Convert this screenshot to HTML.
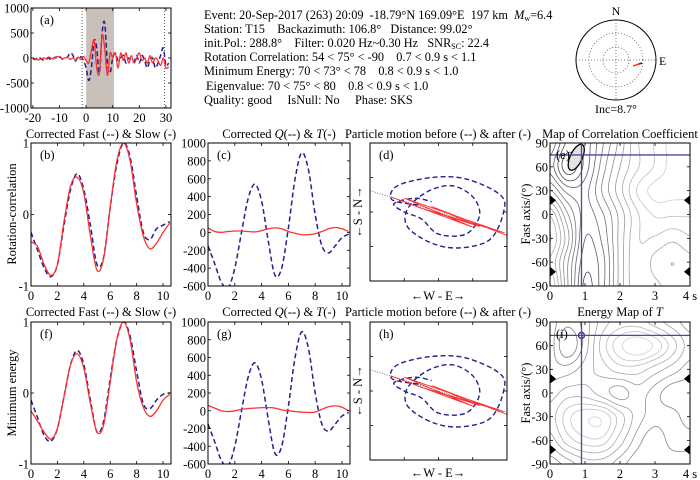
<!DOCTYPE html>
<html><head><meta charset="utf-8">
<style>
html,body{margin:0;padding:0;background:#fff;}
svg{display:block;}
svg text{font-family:"Liberation Serif","Times New Roman",Times,"DejaVu Serif","Noto Serif CJK SC",serif;white-space:pre;}
</style></head>
<body>
<svg id="fig" width="700" height="480" viewBox="0 0 700 480" xmlns="http://www.w3.org/2000/svg">
<g font-size="12.3" fill="#000">
<text x="204" y="19" xml:space="preserve">Event: 20-Sep-2017 (263) 20:09  -18.79°N 169.09°E  197 km  <tspan font-style="italic">M</tspan><tspan font-size="8" dy="2">w</tspan><tspan dy="-2">=6.4</tspan></text>
<text x="204" y="33" xml:space="preserve">Station: T15    Backazimuth: 106.8°   Distance: 99.02°</text>
<text x="204" y="47" xml:space="preserve">init.Pol.: 288.8°    Filter: 0.020 Hz~0.30 Hz   SNR<tspan font-size="8" dy="2">SC</tspan><tspan dy="-2">: 22.4</tspan></text>
<text x="204" y="61" xml:space="preserve">Rotation Correlation: 54 &lt; 75° &lt; -90    0.7 &lt; 0.9 s &lt; 1.1</text>
<text x="204" y="75" xml:space="preserve">Minimum Energy: 70 &lt; 73° &lt; 78    0.8 &lt; 0.9 s &lt; 1.0</text>
<text x="206" y="90" xml:space="preserve">Eigenvalue: 70 &lt; 75° &lt; 80    0.8 &lt; 0.9 s &lt; 1.0</text>
<text x="204" y="104" xml:space="preserve">Quality: good     IsNull: No     Phase: SKS</text>
</g>
<g>
<circle cx="616" cy="60" r="40" fill="none" stroke="#000" stroke-width="1"/>
<circle cx="616" cy="60" r="27" fill="none" stroke="#555" stroke-width="0.8" stroke-dasharray="1,2"/>
<circle cx="616" cy="60" r="13" fill="none" stroke="#555" stroke-width="0.8" stroke-dasharray="1,2"/>
<line x1="576" y1="60" x2="656" y2="60" stroke="#555" stroke-width="0.8" stroke-dasharray="1,2"/>
<line x1="616" y1="20" x2="616" y2="100" stroke="#555" stroke-width="0.8" stroke-dasharray="1,2"/>
<line x1="633" y1="66" x2="639" y2="64" stroke="#ff3030" stroke-width="1.5"/>
<line x1="639" y1="64" x2="642" y2="63" stroke="#22228a" stroke-width="1.5"/>
<text x="616" y="15" font-size="12" text-anchor="middle">N</text>
<text x="659" y="65" font-size="12">E</text>
<text x="616" y="113" font-size="12" text-anchor="middle">Inc=8.7°</text>
</g>
</svg>
<script>
// ---------- data ----------
const tA = [-20,-19,-18,-17,-16,-15,-14,-13,-12,-11,-10,-9,-8,-7,-6,-5,-4,-3,-2,-1,0,1,2,3,4,5,6,7,8,9,10,11,12,13,14,15,16,17,18,19,20,21,22,23,24,25,26,27,28,29,30,31];
const fastA = [-10,-30,20,-10,-40,-30,0,-50,10,0,30,-20,0,20,100,60,-60,30,20,-50,-200,-450,-200,350,200,-300,500,700,-100,-300,0,100,-50,0,50,-100,0,-50,-80,50,-100,50,-50,-200,-30,0,-200,-100,50,200,-150,-100];
const slowA = [0,-20,-40,-20,0,-10,20,-10,0,30,10,-10,0,20,-30,0,-40,20,-30,30,-50,-100,150,350,-200,-300,450,200,-350,100,0,100,-200,100,-50,100,-100,50,-100,0,100,-50,0,-100,50,-100,0,-50,-150,0,-200,-180];
const tW = [0,0.5,1,1.5,2,2.5,3,3.5,4,4.5,5,5.5,6,6.5,7,7.5,8,8.5,9,9.5,10,10.5];
const fastB = [-0.25,-0.5,-0.75,-0.87,-0.7,-0.15,0.35,0.57,0.35,-0.15,-0.7,-0.6,0.1,0.7,1.0,0.8,0.25,-0.25,-0.35,-0.2,-0.15,-0.1];
const slowB = [-0.38,-0.45,-0.7,-0.85,-0.7,-0.1,0.4,0.52,0.3,-0.3,-0.78,-0.62,0.1,0.75,1.0,0.75,0.15,-0.3,-0.48,-0.4,-0.25,-0.12];
const qC = [-150,-350,-560,-620,-400,0,380,540,350,-100,-480,-400,50,600,890,700,200,-150,-230,-150,-60,-20];
const tC = [50,10,0,10,15,15,10,5,20,40,50,40,10,-10,-25,-25,-15,10,40,55,40,10];
const fastF = [-0.1,-0.35,-0.6,-0.68,-0.5,-0.05,0.4,0.6,0.4,-0.1,-0.55,-0.4,0.2,0.75,1.0,0.8,0.3,-0.15,-0.22,-0.1,-0.02,0];
const slowF = [-0.25,-0.4,-0.55,-0.65,-0.5,-0.05,0.4,0.55,0.35,-0.15,-0.55,-0.45,0.15,0.75,1.0,0.75,0.15,-0.2,-0.33,-0.25,-0.1,-0.02];
const qG = [-150,-350,-560,-620,-400,0,380,540,350,-100,-480,-400,50,600,890,700,200,-150,-230,-150,-60,-20];
const tG = [60,30,0,-10,0,15,25,30,35,35,30,10,0,-10,-15,-20,-15,15,45,55,40,0];
const pmBeforeE = [-0.3,-0.68,-0.6,-0.1,0.4,0.9,0.95,0.75,0.3,-0.1,-0.45,-0.45,-0.15,0.2,0.5,0.6,0.4,0.0,-0.25,-0.5,-0.65,-0.35,-0.1];
const pmBeforeN = [0.1,0.18,0.38,0.5,0.48,0.25,0.0,-0.4,-0.52,-0.45,-0.22,0.05,0.3,0.38,0.22,-0.05,-0.32,-0.32,-0.1,0.0,0.12,0.2,0.15];
const pmAfterE = [-0.7,0.5,-0.5,0.95,-0.3,0.6,-0.1,1.0];
const pmAfterN = [0.22,-0.22,0.2,-0.3,0.07,-0.21,0.08,-0.34];
const gridX = [0,0.5,1,1.5,2,2.5,3,3.5,4];
const gridY = [90,60,30,0,-30,-60,-90];
const corrGrid = [
 [4,1.5,2,4,6,8,9,10,10],
 [3,0.3,2,4.5,6.5,8,9,10,10],
 [5,3,3,5,7,9,10,10,10],
 [8,5,3,4,6,8,9,9,9],
 [9,6,2.5,3.5,6,8,8,7.5,8],
 [8,5,2,3,6,8,7,6.5,7],
 [9,5,1.5,3,6,8,7.5,7,7]];
const energyGrid = [
 [3,2,3,5,6,6,5,4,3],
 [3,1,3,6,8,9,8,6,4],
 [3,3,4,5,6,6,5,4,3],
 [4,5,5,4,3,4,3,2,2],
 [5,7,8,8,6,4,3,3,2],
 [4,6,7,7,5,3,2,3,3],
 [2,3,4,4,3,2,2,2,2]];
const bestE = [0.9, 75];
const bestI = [0.9, 73];
const nullMarks = [18,-72];
const ticksA = [-20,-10,0,10,20,30];
const ticksAy = [-1000,-500,0,500,1000];
const ticksT = [0,2,4,6,8,10];
const ticksQ = [-600,-400,-200,0,200,400,600,800,1000];
const ticksNorm = [-1,0,1];
const ticksDt = [0,1,2,3,4];
const ticksPhi = [-90,-60,-30,0,30,60,90];

// ---------- helpers ----------
const NS="http://www.w3.org/2000/svg";
const svg=document.getElementById('fig');
function mk(tag,attrs,parent){const e=document.createElementNS(NS,tag);for(const k in attrs)e.setAttribute(k,attrs[k]);(parent||svg).appendChild(e);return e;}
function scale(d0,d1,r0,r1){return v=>r0+(v-d0)/(d1-d0)*(r1-r0);}
function smoothPath(pts){let d='M'+pts[0][0].toFixed(1)+','+pts[0][1].toFixed(1);
 for(let i=0;i<pts.length-1;i++){const p0=pts[Math.max(0,i-1)],p1=pts[i],p2=pts[i+1],p3=pts[Math.min(pts.length-1,i+2)];
 const c1=[p1[0]+(p2[0]-p0[0])/6,p1[1]+(p2[1]-p0[1])/6],c2=[p2[0]-(p3[0]-p1[0])/6,p2[1]-(p3[1]-p1[1])/6];
 d+=' C'+c1.map(v=>v.toFixed(1))+' '+c2.map(v=>v.toFixed(1))+' '+p2[0].toFixed(1)+','+p2[1].toFixed(1);}
 return d;}
function linePath(pts){return pts.map((p,i)=>(i?'L':'M')+p[0].toFixed(1)+','+p[1].toFixed(1)).join(' ');}
function panel(name,L,R,T,B,xd,yd){
 const g=mk('g',{});
 
 
 const cid='clip-'+name;
 const cp=mk('clipPath',{id:cid},g);mk('rect',{x:L,y:T,width:R-L,height:B-T},cp);
 const inner=mk('g',{'clip-path':'url(#'+cid+')'},g);
 return {g,inner,L,R,T,B,x:scale(xd[0],xd[1],L,R),y:scale(yd[0],yd[1],B,T)};}
function frame(p,xt,yt,xl,yl){
 mk('rect',{x:p.L,y:p.T,width:p.R-p.L,height:p.B-p.T,fill:'none',stroke:'#000','stroke-width':1},p.g);
 (xt||[]).forEach((v,i)=>{const X=p.x(v);
  mk('line',{x1:X,y1:p.B,x2:X,y2:p.B-3,stroke:'#000','stroke-width':0.8},p.g);
  mk('line',{x1:X,y1:p.T,x2:X,y2:p.T+3,stroke:'#000','stroke-width':0.8},p.g);
  if(xl){const t=mk('text',{x:X,y:p.B+14,'font-size':12.5,'text-anchor':'middle'},p.g);t.textContent=xl[i];}});
 (yt||[]).forEach((v,i)=>{const Y=p.y(v);
  mk('line',{x1:p.L,y1:Y,x2:p.L+3,y2:Y,stroke:'#000','stroke-width':0.8},p.g);
  mk('line',{x1:p.R,y1:Y,x2:p.R-3,y2:Y,stroke:'#000','stroke-width':0.8},p.g);
  if(yl){const t=mk('text',{x:p.L-2,y:Y+4.5,'font-size':12.5,'text-anchor':'end'},p.g);t.textContent=yl[i];}});}
function label(p,s,dx){const t=mk('text',{x:p.L+(dx||9),y:p.T+16,'font-size':12.5},p.g);t.textContent=s;}
function text(x,y,s,name,extra){const t=mk('text',Object.assign({x:x,y:y,'font-size':12.5,'text-anchor':'middle'},extra||{}));t.innerHTML=s;
 
 return t;}
function series(p,xs,ys,dashed,name){
 const pts=xs.map((v,i)=>[p.x(v),p.y(ys[i])]);
 const e=mk('path',{d:smoothPath(pts),fill:'none',stroke:dashed?'#22228a':'#ff3030','stroke-width':dashed?1.5:1.3,'stroke-dasharray':dashed?'5,3':'none'},p.inner);
 
 return e;}

// ---------- panel a ----------
const pa=panel('panel-a-waveforms',31,171,8,108,[-20.7,31.9],[-1000,1000]);
mk('rect',{x:pa.x(0),y:pa.T,width:pa.x(10.5)-pa.x(0),height:pa.B-pa.T,fill:'#c9c0ba'},pa.inner);
[-1.5,29.5].forEach(v=>mk('line',{x1:pa.x(v),x2:pa.x(v),y1:pa.T,y2:pa.B,stroke:'#333','stroke-width':0.8,'stroke-dasharray':'1,2'},pa.inner));
series(pa,tA,fastA,true,'waveform-radial');
series(pa,tA,slowA,false,'waveform-transverse');
frame(pa,ticksA,ticksAy,ticksA.map(String),ticksAy.map(String));
label(pa,'(a)');

// ---------- waveform panels ----------
function wavePanel(name,L,T,B,a,b,yd,yt,lab,nameA,nameB){
 const p=panel(name,L,L+(L<100?140:142),T,B,[0,10.6],yd);
 series(p,tW,a,true,nameA);series(p,tW,b,false,nameB);
 frame(p,ticksT,yt,ticksT.map(String),yt.map(String));label(p,lab);return p;}
wavePanel('panel-b-fast-slow',31,143,286,fastB,slowB,[-1,1],ticksNorm,'(b)','fast-trace','slow-trace');
wavePanel('panel-c-q-t',208,143,286,qC,tC,[-600,1000],ticksQ,'(c)','q-trace','t-trace');
wavePanel('panel-f-fast-slow',31,322,464,fastF,slowF,[-1,1],ticksNorm,'(f)','fast-trace','slow-trace');
wavePanel('panel-g-q-t',208,322,464,qG,tG,[-600,1000],ticksQ,'(g)','q-trace','t-trace');

// ---------- particle motion ----------
function pmPanel(name,T,B,lab){
 const p=panel(name,370,507,T,B,[-1,1],[-1,1]);
 mk('line',{x1:p.x(-1),y1:p.y(0.31),x2:p.x(1),y2:p.y(-0.31),stroke:'#555','stroke-width':0.8,'stroke-dasharray':'1,1.5'},p.inner);
 const pb=pmBeforeE.map((v,i)=>[p.x(v),p.y(pmBeforeN[i])]);
 const e1=mk('path',{d:smoothPath(pb),fill:'none',stroke:'#22228a','stroke-width':1.4,'stroke-dasharray':'5,3'},p.inner);
 
 
 const pa2=pmAfterE.map((v,i)=>[p.x(v),p.y(pmAfterN[i])]);
 const e2=mk('path',{d:linePath(pa2),fill:'none',stroke:'#ff3030','stroke-width':0.9},p.inner);
 
 
 frame(p,[-0.5,0,0.5],[-0.5,0,0.5]);label(p,lab);return p;}
const pd=pmPanel('panel-d-particle-motion',143,281,'(d)');
const ph=pmPanel('panel-h-particle-motion',322,460,'(h)');

// ---------- contour maps ----------
function cubic(p0,p1,p2,p3,t){return p1+0.5*t*(p2-p0+t*(2*p0-5*p1+4*p2-p3+t*(3*(p1-p2)+p3-p0)));}
function sampleGrid(G,fx,fy){
 const nr=G.length,nc=G[0].length;const cl=(v,n)=>Math.max(0,Math.min(n-1,v));
 const i=Math.floor(fy),j=Math.floor(fx);const ty=fy-i,tx=fx-j;const rows=[];
 for(let di=-1;di<=2;di++){const r=G[cl(i+di,nr)];rows.push(cubic(r[cl(j-1,nc)],r[cl(j,nc)],r[cl(j+1,nc)],r[cl(j+2,nc)],tx));}
 return cubic(rows[0],rows[1],rows[2],rows[3],ty);}
function contours(p,G,levels,colorFn){
 const N=70,M=70;const nc=G[0].length-1,nr=G.length-1;const val=[];
 for(let a=0;a<=M;a++){val.push([]);for(let b=0;b<=N;b++)val[a].push(sampleGrid(G,b/N*nc,a/M*nr));}
 const X=b=>p.x(gridX[0]+(b/N)*(gridX[gridX.length-1]-gridX[0]));
 const Y=a=>p.y(gridY[0]+(a/M)*(gridY[gridY.length-1]-gridY[0]));
 levels.forEach(L=>{let d='';
  for(let a=0;a<M;a++)for(let b=0;b<N;b++){
   const v=[val[a][b],val[a][b+1],val[a+1][b+1],val[a+1][b]];
   const c=[[b,a],[b+1,a],[b+1,a+1],[b,a+1]];const pts=[];
   for(let k=0;k<4;k++){const k2=(k+1)%4;if((v[k]<L)!==(v[k2]<L)){const t=(L-v[k])/(v[k2]-v[k]);
     pts.push([X(c[k][0]+t*(c[k2][0]-c[k][0])),Y(c[k][1]+t*(c[k2][1]-c[k][1]))]);}}
   for(let k=0;k+1<pts.length;k+=2)d+='M'+pts[k][0].toFixed(1)+','+pts[k][1].toFixed(1)+'L'+pts[k+1][0].toFixed(1)+','+pts[k+1][1].toFixed(1);}
  if(d){const e=mk('path',{d:d,fill:'none',stroke:colorFn(L),'stroke-width':0.8},p.inner);
   
   }});}
function mapPanel(name,T,B,G,levels,colorFn,best,lab,ellipse){
 const p=panel(name,550,690,T,B,[0,4],[-90,90]);
 contours(p,G,levels,colorFn);
 if(ellipse){const el=mk('ellipse',{cx:p.x(0.75),cy:p.y(72),rx:6,ry:14,fill:'#e3e3e3',stroke:'#000','stroke-width':1.3,transform:'rotate(25 '+p.x(0.75)+' '+p.y(72)+')'},p.inner);
  
  }
 else{const c=mk('circle',{cx:p.x(best[0]),cy:p.y(best[1]),r:3,fill:'none',stroke:'#22228a','stroke-width':1.2},p.inner);
  
  }
 mk('line',{x1:p.x(best[0]),x2:p.x(best[0]),y1:p.T,y2:p.B,stroke:'#4a4aa0','stroke-width':1.3},p.inner);
 mk('line',{x1:p.L,x2:p.R,y1:p.y(best[1]),y2:p.y(best[1]),stroke:'#4a4aa0','stroke-width':1.3},p.inner);
 nullMarks.forEach(v=>{const Y=p.y(v);
  const t1=mk('path',{d:'M'+p.L+','+(Y-5)+' L'+(p.L+6)+','+Y+' L'+p.L+','+(Y+5)+'Z',fill:'#000'},p.g);
  
  
  const t2=mk('path',{d:'M'+p.R+','+(Y-5)+' L'+(p.R-6)+','+Y+' L'+p.R+','+(Y+5)+'Z',fill:'#000'},p.g);
  
  });
 frame(p,ticksDt,ticksPhi,['0','1','2','3','4 s'],ticksPhi.map(String));
 label(p,lab,6);return p;}
const corrLevels=[];for(let v=0.9;v<10;v+=0.8)corrLevels.push(v);
mapPanel('panel-e-correlation-map',143,286,corrGrid,corrLevels,L=>{const g=Math.round(50+L*16);return 'rgb('+g+','+g+','+g+')';},bestE,'(e)',true);
const enLevels=[1.8,2.6,3.5,4.5,5.5,6.5,7.3,8.2];
mapPanel('panel-i-energy-map',322,464,energyGrid,enLevels,L=>{const g=Math.round(100+L*13);return 'rgb('+g+','+g+','+g+')';},bestI,'(i)',false);

// ---------- titles and axis labels ----------
text(101,138,'Corrected Fast (--) &amp; Slow (-)','title-b');
text(279,138,'Corrected <tspan font-style="italic">Q</tspan>(--) &amp; <tspan font-style="italic">T</tspan>(-)','title-c');
text(438,138,'Particle motion before (--) &amp; after (-)','title-d');
text(620,138,'Map of Correlation Coefficient','title-e');
text(101,316,'Corrected Fast (--) &amp; Slow (-)','title-f');
text(279,316,'Corrected <tspan font-style="italic">Q</tspan>(--) &amp; <tspan font-style="italic">T</tspan>(-)','title-g');
text(438,316,'Particle motion before (--) &amp; after (-)','title-h');
text(620,316,'Energy Map of <tspan font-style="italic">T</tspan>','title-i');
text(0,0,'Rotation-correlation','ylabel-b',{transform:'translate(16,214) rotate(-90)'});
text(0,0,'Minimum energy','ylabel-f',{transform:'translate(16,393) rotate(-90)'});
text(0,0,'←S - N→','ylabel-d',{transform:'translate(362,212) rotate(-90)'});
text(0,0,'←S - N→','ylabel-h',{transform:'translate(362,391) rotate(-90)'});
text(438,300,'←W - E→','xlabel-d');
text(438,477,'←W - E→','xlabel-h');
text(0,0,'Fast axis/(°)','ylabel-e',{transform:'translate(530,214) rotate(-90)'});
text(0,0,'Fast axis/(°)','ylabel-i',{transform:'translate(530,393) rotate(-90)'});
</script>
</body></html>
